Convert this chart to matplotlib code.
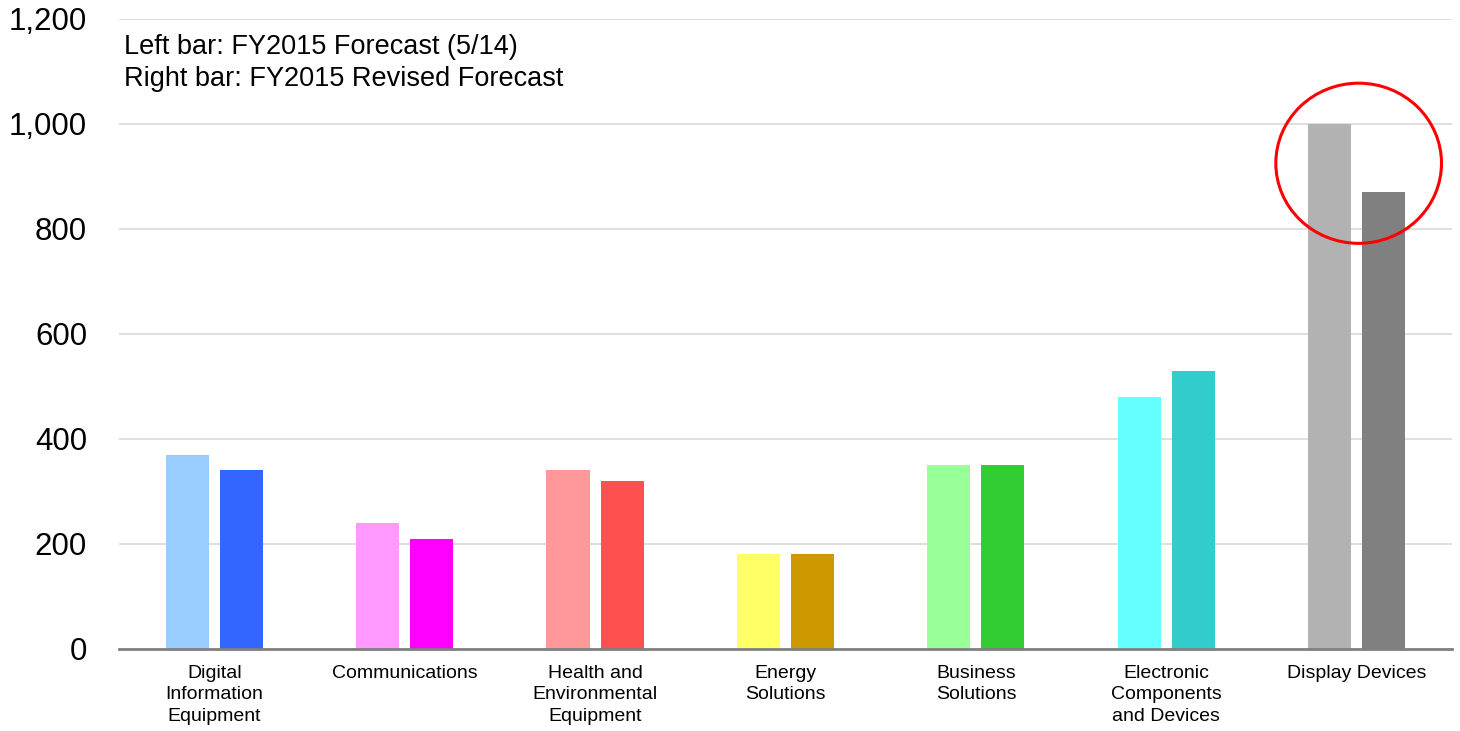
import matplotlib
matplotlib.use("Agg")
import matplotlib.pyplot as plt
from matplotlib.patches import Ellipse
import numpy as np

# -----------------------------
# Data
# -----------------------------
categories = [
    "Digital\nInformation\nEquipment",
    "Communications",
    "Health and\nEnvironmental\nEquipment",
    "Energy\nSolutions",
    "Business\nSolutions",
    "Electronic\nComponents\nand Devices",
    "Display Devices",
]
forecast_may = [370, 240, 340, 180, 350, 480, 1000]
forecast_revised = [340, 210, 320, 180, 350, 530, 870]

colors_left = ["#99ccff", "#ff99ff", "#ff9999", "#ffff66", "#99ff99", "#66ffff", "#b2b2b2"]
colors_right = ["#3366ff", "#ff00ff", "#ff5050", "#cc9900", "#33cc33", "#33cccc", "#808080"]

yticks = [0, 200, 400, 600, 800, 1000, 1200]

plt.rcParams["font.family"] = ["Liberation Sans", "DejaVu Sans"]

fig = plt.figure(figsize=(14.6, 7.31), dpi=100)
ax = fig.add_axes([0.0815, 0.1122, 0.913, 0.862])

x = np.arange(len(categories))
w = 0.226
off = 0.142
ax.bar(x - off, forecast_may, width=w, color=colors_left, zorder=3)
ax.bar(x + off, forecast_revised, width=w, color=colors_right, zorder=3)

ax.set_xlim(-0.5, len(categories) - 0.5)
ax.set_ylim(0, 1200)
ax.set_yticks(yticks)
ax.set_yticklabels([f"{v:,}" for v in yticks], fontsize=22.5)
ax.set_xticks(x)
ax.set_xticklabels(categories, fontsize=14, linespacing=1.33)
ax.tick_params(axis="y", length=0, pad=23)
ax.tick_params(axis="x", length=0, pad=11.5)

ax.grid(axis="y", color="#d9d9d9", linewidth=1.2, zorder=0)
for side in ["left", "right", "top"]:
    ax.spines[side].set_visible(False)
ax.spines["bottom"].set_color("#808080")
ax.spines["bottom"].set_linewidth(2)
ax.spines["bottom"].set_zorder(4)

# legend-ish note
ax.text(0.004, 0.976, "Left bar: FY2015 Forecast (5/14)\nRight bar: FY2015 Revised Forecast",
        transform=ax.transAxes, fontsize=19.5, va="top", ha="left", linespacing=1.3)

# red circle around Display Devices
ax.add_patch(Ellipse((6.01, 925), width=0.87, height=305, fill=False,
                     edgecolor="red", linewidth=2.2, zorder=5))

fig.savefig("out.png", dpi=100)
